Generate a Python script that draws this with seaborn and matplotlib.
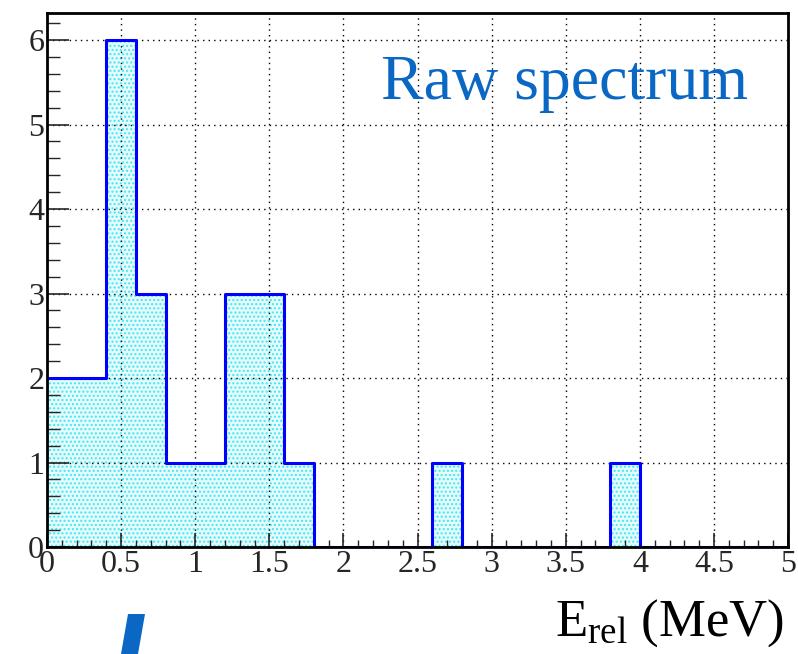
import numpy as np
import matplotlib
matplotlib.use("Agg")
import matplotlib.pyplot as plt
import matplotlib.ticker as mticker
from matplotlib.patches import Polygon
import seaborn as sns

# Histogram data (bin width 0.2 MeV)
bin_edges = [0.0, 0.2, 0.4, 0.6, 0.8, 1.0, 1.2, 1.4, 1.6, 1.8, 2.0, 2.2, 2.4,
             2.6, 2.8, 3.0, 3.2, 3.4, 3.6, 3.8, 4.0, 4.2, 4.4, 4.6, 4.8, 5.0]
counts = [2, 2, 6, 3, 1, 1, 3, 3, 1, 0, 0, 0, 0,
          1, 0, 0, 0, 0, 0, 1, 0, 0, 0, 0, 0]
bin_centers = [(a + b) / 2 for a, b in zip(bin_edges[:-1], bin_edges[1:])]

sns.set_style("white")
plt.rcParams["font.family"] = ["Liberation Serif", "DejaVu Serif"]
plt.rcParams["mathtext.fontset"] = "custom"
plt.rcParams["mathtext.rm"] = "Liberation Serif"
plt.rcParams["hatch.color"] = "#40e8f2"
plt.rcParams["hatch.linewidth"] = 1.0

fig = plt.figure(figsize=(7.98, 6.54), dpi=100)
ax = fig.add_axes([0.0589, 0.1636, 0.9287, 0.8165])

# Filled, dotted-hatched step histogram
sns.histplot(x=bin_centers, weights=counts, bins=bin_edges, element="step",
             fill=True, color="#e6fbfc", alpha=1.0, linewidth=0, ax=ax, zorder=1)
for coll in ax.collections:
    coll.set_facecolor("#e6fbfc")
    coll.set_edgecolor("#40e8f2")
    coll.set_linewidth(0)
    coll.set_hatch("....")

# Blue outline
sns.histplot(x=bin_centers, weights=counts, bins=bin_edges, element="step",
             fill=False, color="#0000ff", linewidth=2.2, ax=ax, zorder=3)

ax.set_xlim(0, 5)
ax.set_ylim(0, 6.32)

ax.xaxis.set_major_locator(mticker.MultipleLocator(0.5))
ax.xaxis.set_minor_locator(mticker.MultipleLocator(0.1))
ax.yaxis.set_major_locator(mticker.MultipleLocator(1))
ax.yaxis.set_minor_locator(mticker.MultipleLocator(0.2))
ax.xaxis.set_major_formatter(mticker.FuncFormatter(lambda v, p: f"{v:g}"))

ax.grid(True, which="major", color="black", linestyle=(0, (1, 3)),
        linewidth=1.0, zorder=2)
ax.set_axisbelow(False)

ax.tick_params(axis="x", which="major", direction="in", length=10, width=1.2,
               labelsize=23, pad=2, bottom=True, top=False)
ax.tick_params(axis="x", which="minor", direction="in", length=5, width=1.0,
               bottom=True, top=False)
ax.tick_params(axis="y", which="major", direction="in", length=16, width=1.2,
               labelsize=23, pad=2, left=True, right=False)
ax.tick_params(axis="y", which="minor", direction="in", length=9, width=1.0,
               left=True, right=False)

for spine in ax.spines.values():
    spine.set_visible(True)
    spine.set_color("black")
    spine.set_linewidth(2.0)
    spine.set_zorder(5)

ax.set_xlabel("")
ax.set_ylabel("")

ax.text(0.946, 0.839, "Raw spectrum", transform=ax.transAxes, color="#0a68c4",
        fontsize=46, ha="right", va="baseline")

fig.text(0.983, 0.028, r"$\mathrm{E_{rel}}$ (MeV)", fontsize=38,
         ha="right", va="baseline", color="black")

# Fragment of blue mark at the bottom edge
fig.patches.append(Polygon([[128 / 798, 1 - 614 / 654], [145 / 798, 1 - 614 / 654],
                            [138 / 798, 0.0], [121 / 798, 0.0]],
                           closed=True, transform=fig.transFigure,
                           facecolor="#0a68c4", edgecolor="none"))

fig.savefig("out.png", dpi=100)
